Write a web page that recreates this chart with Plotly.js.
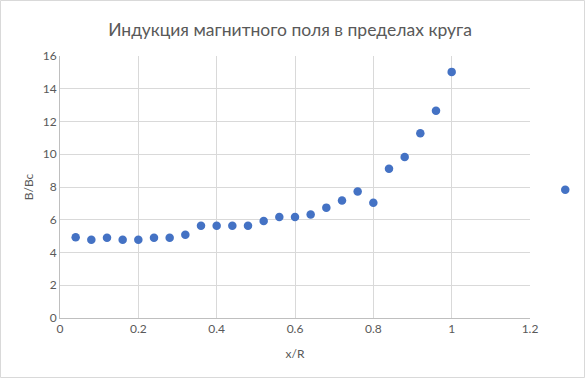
<!DOCTYPE html>
<html>
<head>
<meta charset="utf-8">
<script src="https://cdn.plot.ly/plotly-3.0.1.min.js"></script>
<style>html,body{margin:0;padding:0;background:#fff;}#chart{width:585px;height:378px;}</style>
</head>
<body>
<div id="chart"></div>
<script>
const xValues = [0.04,0.08,0.12,0.16,0.20,0.24,0.28,0.32,0.36,0.40,0.44,0.48,0.52,0.56,0.60,0.64,0.68,0.72,0.76,0.80,0.84,0.88,0.92,0.96,1.00,1.29];
const yValues = [4.93,4.78,4.90,4.78,4.78,4.90,4.90,5.08,5.64,5.64,5.64,5.64,5.92,6.17,6.17,6.32,6.74,7.17,7.73,7.04,9.12,9.83,11.28,12.66,15.03,7.83];
const xTicks = [0,0.2,0.4,0.6,0.8,1,1.2];
const xTickText = ["0","0.2","0.4","0.6","0.8","1","1.2"];
const yTicks = [0,2,4,6,8,10,12,14,16];

const xMax = 1.2;
const W = 585, H = 378, mL = 60, mR = 10, mT = 56, mB = 60;
const plotW = W - mL - mR;          // full overlay width
const mainW = 470;                  // width of the visible axis area
const dom = mainW / plotW;

const inX = [], inY = [], outX = [], outY = [];
xValues.forEach((v, i) => { if (v <= xMax) { inX.push(v); inY.push(yValues[i]); } else { outX.push(v); outY.push(yValues[i]); } });

const font = "Lato, 'Open Sans', sans-serif";
const marker = {color: '#4472C4', size: 8.5, symbol: 'circle'};
Plotly.newPlot('chart', [
  {x: inX, y: inY, type: 'scatter', mode: 'markers', marker: marker, xaxis: 'x', yaxis: 'y', hoverinfo: 'skip'},
  {x: outX, y: outY, type: 'scatter', mode: 'markers', marker: marker, xaxis: 'x2', yaxis: 'y2', hoverinfo: 'skip'}
], {
  width: W, height: H,
  margin: {l: mL, r: mR, t: mT, b: mB},
  paper_bgcolor: '#fff', plot_bgcolor: 'rgba(0,0,0,0)',
  showlegend: false,
  title: {text: 'Индукция магнитного поля в пределах круга', font: {family: font, size: 17.5, color: '#595959'}, x: 290 / W, xanchor: 'center', y: 0.92, yanchor: 'middle'},
  xaxis: {domain: [0, dom], range: [0, xMax], tickvals: xTicks, ticktext: xTickText, showgrid: true, gridcolor: '#d9d9d9', gridwidth: 1,
    zeroline: false, showline: true, linecolor: '#bfbfbf', linewidth: 1, ticks: '', anchor: 'y',
    tickfont: {family: font, size: 12, color: '#595959'},
    title: {text: 'x/R', font: {family: font, size: 12, color: '#595959'}, standoff: 14}, fixedrange: true},
  yaxis: {range: [0, 16], tickvals: yTicks, showgrid: true, gridcolor: '#d9d9d9', gridwidth: 1,
    zeroline: false, showline: true, linecolor: '#bfbfbf', linewidth: 1, ticks: '', anchor: 'x',
    tickfont: {family: font, size: 12, color: '#595959'},
    title: {text: 'B/Bc', font: {family: font, size: 12, color: '#595959'}, standoff: 6}, fixedrange: true},
  xaxis2: {domain: [0, 1], range: [0, xMax / dom], visible: false, showgrid: false, zeroline: false, anchor: 'y2', fixedrange: true},
  yaxis2: {domain: [0, 1], range: [0, 16], visible: false, showgrid: false, zeroline: false, anchor: 'x2', fixedrange: true},
  shapes: [{type: 'rect', xref: 'paper', yref: 'paper', x0: -(mL - 0.5) / plotW, x1: 1 + (mR - 0.5) / plotW, y0: -(mB - 0.5) / (H - mT - mB), y1: 1 + (mT - 0.5) / (H - mT - mB),
    line: {color: '#d9d9d9', width: 1}, fillcolor: 'rgba(0,0,0,0)', layer: 'below'}]
}, {staticPlot: true});
</script>
</body>
</html>
